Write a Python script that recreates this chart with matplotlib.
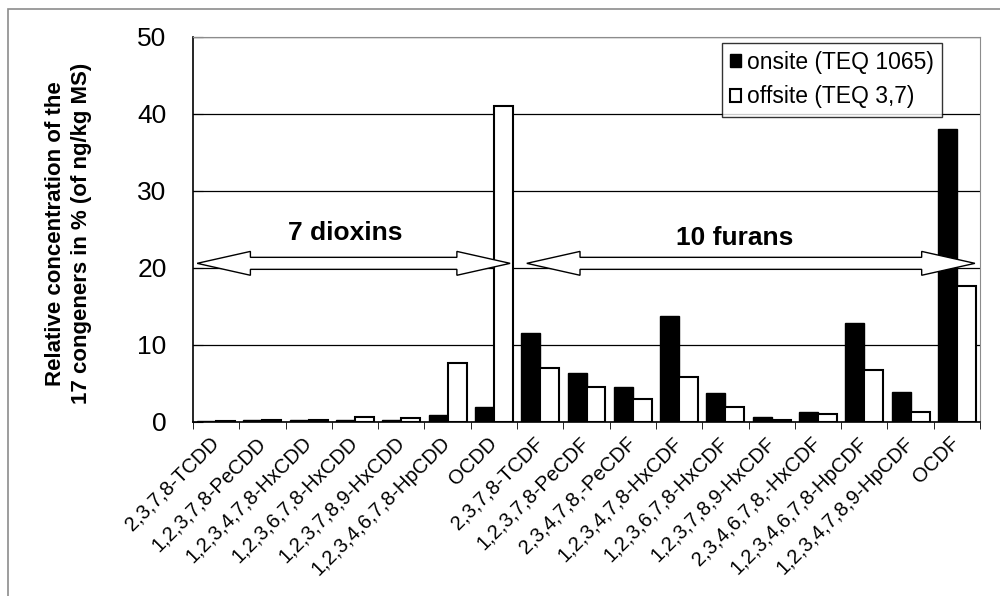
import numpy as np
import matplotlib
matplotlib.use("Agg")
import matplotlib.pyplot as plt
from matplotlib.patches import Polygon, Rectangle

plt.rcParams["font.family"] = ["Liberation Sans", "DejaVu Sans"]

# --- data (% of ng/kg MS) ---
congeners = [
    "2,3,7,8-TCDD", "1,2,3,7,8-PeCDD", "1,2,3,4,7,8-HxCDD", "1,2,3,6,7,8-HxCDD",
    "1,2,3,7,8,9-HxCDD", "1,2,3,4,6,7,8-HpCDD", "OCDD",
    "2,3,7,8-TCDF", "1,2,3,7,8-PeCDF", "2,3,4,7,8,-PeCDF", "1,2,3,4,7,8-HxCDF",
    "1,2,3,6,7,8-HxCDF", "1,2,3,7,8,9-HxCDF", "2,3,4,6,7,8,-HxCDF",
    "1,2,3,4,6,7,8-HpCDF", "1,2,3,4,7,8,9-HpCDF", "OCDF",
]
onsite = [0.1, 0.2, 0.2, 0.3, 0.2, 0.9, 2.0,
          11.5, 6.4, 4.5, 13.8, 3.7, 0.6, 1.3, 12.8, 3.9, 38.1]
offsite = [0.1, 0.3, 0.3, 0.65, 0.55, 7.7, 41.0,
           7.0, 4.5, 3.0, 5.9, 1.9, 0.3, 1.0, 6.8, 1.3, 17.6]

onsite_label = "onsite (TEQ 1065)"
offsite_label = "offsite (TEQ 3,7)"
group_labels = ["7 dioxins", "10 furans"]


def double_arrow(ax, x0, x1, y, head_len=1.15, head_w=1.55, shaft_w=0.78):
    # outlined double-headed block arrow in data coords
    pts = [
        (x0, y),
        (x0 + head_len, y + head_w),
        (x0 + head_len, y + shaft_w),
        (x1 - head_len, y + shaft_w),
        (x1 - head_len, y + head_w),
        (x1, y),
        (x1 - head_len, y - head_w),
        (x1 - head_len, y - shaft_w),
        (x0 + head_len, y - shaft_w),
        (x0 + head_len, y - head_w),
    ]
    ax.add_patch(Polygon(pts, closed=True, facecolor="white",
                         edgecolor="black", linewidth=1.0, zorder=5))


fig = plt.figure(figsize=(10, 5.96), dpi=100)
ax = fig.add_axes([0.193, 0.292, 0.787, 0.646])

# outer chart frame
fig.patches.append(Rectangle((0.008, -0.1), 1.2, 1.0 - 9 / 596 + 0.1,
                             transform=fig.transFigure, fill=False,
                             edgecolor="#8c8c8c", linewidth=1.2))

x = np.arange(len(congeners))
w = 0.41
ax.bar(x - w / 2, onsite, w, color="black", edgecolor="black",
       linewidth=1.0, label=onsite_label, zorder=3)
ax.bar(x + w / 2, offsite, w, color="white", edgecolor="black",
       linewidth=1.5, label=offsite_label, zorder=3)

ax.set_xlim(-0.5, len(congeners) - 0.5)
ax.set_ylim(0, 50)
ax.set_yticks(np.arange(0, 51, 10))
ax.yaxis.grid(True, color="black", linewidth=0.9, zorder=0)
ax.set_axisbelow(True)

ax.tick_params(axis="y", direction="in", length=7, pad=19, labelsize=19)
ax.set_xticks(x)
ax.set_xticklabels(congeners, rotation=45, ha="right", va="center",
                   rotation_mode="anchor", fontsize=14.5)
ax.tick_params(axis="x", which="major", length=0, pad=13)
ax.set_xticks(np.arange(-0.5, len(congeners), 1), minor=True)
ax.tick_params(axis="x", which="minor", direction="out", length=5)

for side in ["top", "right"]:
    ax.spines[side].set_color("#8c8c8c")
ax.spines["left"].set_linewidth(1.2)
ax.spines["bottom"].set_linewidth(1.2)

ax.set_ylabel("Relative concentration of the\n17 congeners in % (of ng/kg MS)",
              fontsize=16, fontweight="bold", linespacing=1.35)
ax.yaxis.set_label_coords(-0.128, 0.49)

# group arrows and labels
double_arrow(ax, -0.41, 6.35, 20.6)
double_arrow(ax, 6.71, 16.39, 20.6)
ax.text(2.78, 24.6, group_labels[0], ha="center", va="center",
        fontsize=19, fontweight="bold", zorder=6)
ax.text(11.2, 23.9, group_labels[1], ha="center", va="center",
        fontsize=19, fontweight="bold", zorder=6)

leg = ax.legend(loc="upper right", bbox_to_anchor=(942 / 1000, 1 - 43 / 596),
                bbox_transform=fig.transFigure, fontsize=16.5, frameon=True,
                fancybox=False, borderaxespad=0, handlelength=0.5,
                handleheight=0.5, handletextpad=0.25, labelspacing=0.5,
                borderpad=0.35)
leg.get_frame().set_edgecolor("black")
leg.get_frame().set_linewidth(1.0)
leg.set_zorder(10)

fig.savefig("out.png", dpi=100)
